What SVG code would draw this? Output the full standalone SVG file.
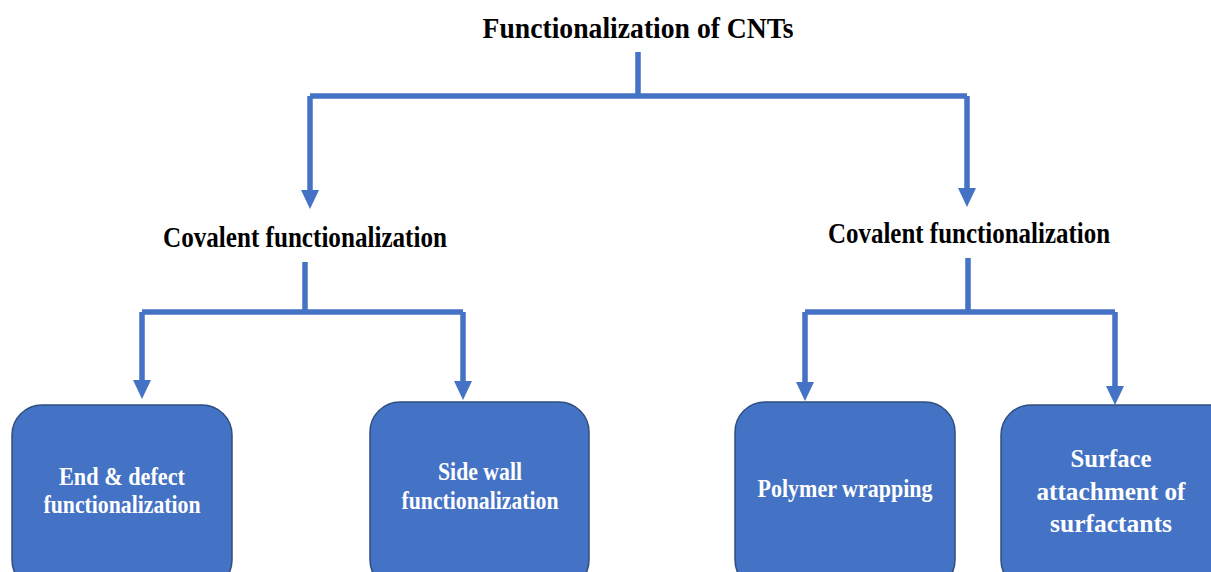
<svg xmlns="http://www.w3.org/2000/svg" width="1211" height="572" viewBox="0 0 1211 572">
<defs>
<style>
.t{font-family:"Liberation Serif","Times New Roman",serif;font-weight:bold;text-anchor:middle}
.h{fill:#000;font-size:30px}
.b{fill:#fff;font-size:25px}
.box{fill:#4472C4;stroke:#2F4F7F;stroke-width:1.5}
.c{fill:none;stroke:#4472C4;stroke-width:5.5}
.ah{fill:#4472C4}
</style>
</defs>
<rect width="1211" height="572" fill="#fff"/>
<g id="title"><text class="t h" x="638" y="38" textLength="311" lengthAdjust="spacingAndGlyphs">Functionalization of CNTs</text></g>
<g id="cov-left"><text class="t h" x="305" y="247" font-size="28" textLength="284" lengthAdjust="spacingAndGlyphs">Covalent functionalization</text></g>
<g id="cov-right"><text class="t h" x="969" y="243" font-size="28" textLength="282" lengthAdjust="spacingAndGlyphs">Covalent functionalization</text></g>
<g id="connectors">
<path class="c" d="M638,52 V96 M310,96 H967"/>
<path class="c" d="M310,96 V190"/>
<path class="c" d="M967,96 V188"/>
<path class="c" d="M305,262 V312 M142,312 H463 M142,312 V380 M463,312 V381"/>
<path class="c" d="M968,258 V312 M805,312 H1115 M805,312 V382 M1115,312 V386"/>
<path class="ah" d="M301,190 H319 L310,209 Z"/>
<path class="ah" d="M958,188 H976 L967,207 Z"/>
<path class="ah" d="M133,380 H151 L142,399 Z"/>
<path class="ah" d="M454,381 H472 L463,400 Z"/>
<path class="ah" d="M796,382 H814 L805,401 Z"/>
<path class="ah" d="M1106,386 H1124 L1115,405 Z"/>
</g>
<g id="n1"><rect class="box" x="12" y="405" width="220" height="185" rx="30"/>
<text class="t b" x="122" y="485" textLength="126" lengthAdjust="spacingAndGlyphs">End &amp; defect</text>
<text class="t b" x="122" y="513" textLength="157" lengthAdjust="spacingAndGlyphs">functionalization</text></g>
<g id="n2"><rect class="box" x="370" y="402" width="219" height="188" rx="30"/>
<text class="t b" x="480" y="480" textLength="84" lengthAdjust="spacingAndGlyphs">Side wall</text>
<text class="t b" x="480" y="509" textLength="157" lengthAdjust="spacingAndGlyphs">functionalization</text></g>
<g id="n3"><rect class="box" x="735" y="402" width="220" height="188" rx="30"/>
<text class="t b" x="845" y="497" textLength="175" lengthAdjust="spacingAndGlyphs">Polymer wrapping</text></g>
<g id="n4"><rect class="box" x="1001" y="405" width="240" height="185" rx="30"/>
<text class="t b" x="1111" y="467" font-size="30" textLength="81" lengthAdjust="spacingAndGlyphs">Surface</text>
<text class="t b" x="1111" y="500" font-size="30" textLength="149" lengthAdjust="spacingAndGlyphs">attachment of</text>
<text class="t b" x="1111" y="532" font-size="30" textLength="122" lengthAdjust="spacingAndGlyphs">surfactants</text></g>
</svg>
